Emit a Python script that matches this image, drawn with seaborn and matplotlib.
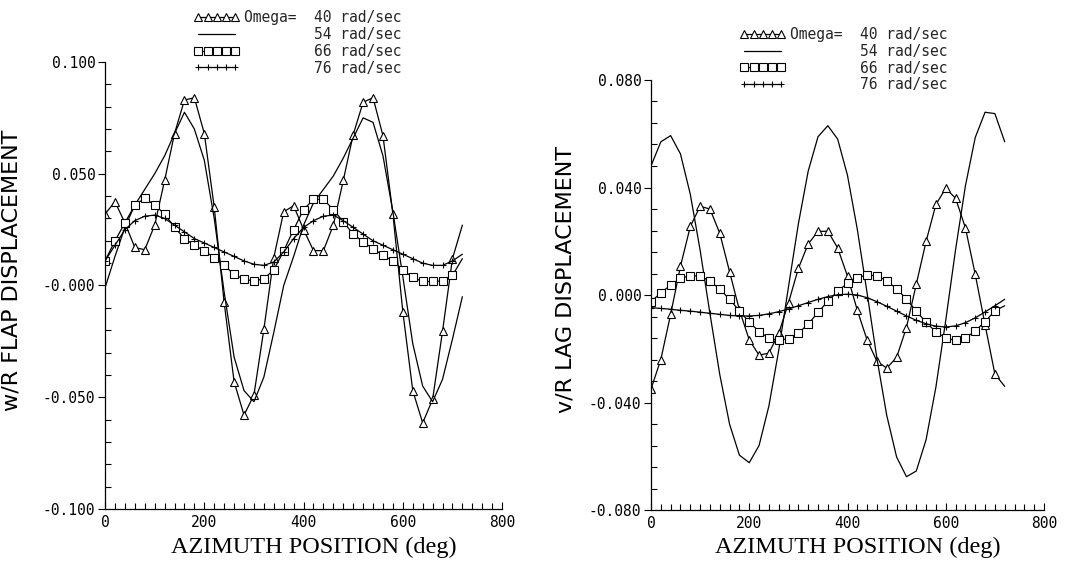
import matplotlib
matplotlib.use("Agg")
import matplotlib.pyplot as plt
from matplotlib.ticker import MultipleLocator
import pandas as pd
import seaborn as sns

# azimuth grid of the curves (deg); markers are drawn on 0..700
AZIMUTH = list(range(0, 721, 20))
SPEEDS = [40, 54, 66, 76]
LEGEND_LABELS = ["Omega=  40 rad/sec", "        54 rad/sec",
                 "        66 rad/sec", "        76 rad/sec"]

# w/R flap displacement
FLAP_40 = [0.032, 0.0375, 0.028, 0.017, 0.016, 0.027, 0.047, 0.068, 0.083, 0.084,
           0.068, 0.035, -0.0076, -0.043, -0.058, -0.049, -0.0196, 0.0125, 0.033,
           0.0357, 0.025, 0.0156, 0.0156, 0.027, 0.047, 0.0675, 0.082, 0.084, 0.067,
           0.032, -0.0117, -0.047, -0.0615, -0.051, -0.0205, 0.012, 0.027]
FLAP_54 = [-0.001, 0.013, 0.026, 0.036, 0.043, 0.050, 0.058, 0.068, 0.0775, 0.070,
           0.056, 0.030, -0.003, -0.032, -0.047, -0.052, -0.041, -0.021, 0.0,
           0.013, 0.027, 0.037, 0.043, 0.049, 0.057, 0.066, 0.075, 0.073, 0.058,
           0.033, 0.004, -0.026, -0.045, -0.052, -0.042, -0.024, -0.005]
FLAP_66 = [0.011, 0.020, 0.028, 0.036, 0.039, 0.036, 0.032, 0.026, 0.021, 0.018,
           0.0155, 0.0125, 0.009, 0.005, 0.0028, 0.002, 0.003, 0.007, 0.0155, 0.025,
           0.034, 0.0385, 0.0385, 0.034, 0.0285, 0.023, 0.0195, 0.0165, 0.0135, 0.011,
           0.007, 0.0036, 0.0018, 0.0018, 0.002, 0.0045, 0.012]
FLAP_76 = [0.011, 0.018, 0.025, 0.029, 0.031, 0.0315, 0.030, 0.027, 0.024, 0.021,
           0.019, 0.017, 0.015, 0.013, 0.011, 0.0095, 0.009, 0.0105, 0.015, 0.021,
           0.026, 0.029, 0.031, 0.0315, 0.029, 0.026, 0.023, 0.020, 0.018, 0.016,
           0.014, 0.012, 0.010, 0.009, 0.009, 0.011, 0.014]

# v/R lag displacement
LAG_40 = [-0.035, -0.024, -0.0072, 0.0107, 0.0255, 0.033, 0.032, 0.023, 0.0086,
          -0.0056, -0.0167, -0.0224, -0.0216, -0.0143, -0.0028, 0.0099, 0.019,
          0.0237, 0.0237, 0.0175, 0.007, -0.0057, -0.0168, -0.0247, -0.0272, -0.0232,
          -0.0121, 0.004, 0.020, 0.0337, 0.0397, 0.036, 0.025, 0.0077, -0.0111,
          -0.0294, -0.034]
LAG_54 = [0.048, 0.057, 0.0593, 0.0525, 0.0375, 0.0167, -0.0069, -0.0296, -0.0481,
          -0.0596, -0.0624, -0.056, -0.0413, -0.0206, 0.0032, 0.0265, 0.0461, 0.0589,
          0.063, 0.058, 0.0445, 0.0244, 0.0006, -0.0237, -0.0449, -0.0603, -0.0676,
          -0.0655, -0.0538, -0.0342, -0.0094, 0.0169, 0.0406, 0.0586, 0.068, 0.0675,
          0.057]
LAG_66 = [-0.0025, 0.0008, 0.0037, 0.0062, 0.0072, 0.0070, 0.0052, 0.0022, -0.0016,
          -0.0059, -0.0101, -0.0136, -0.0161, -0.0168, -0.0162, -0.0142, -0.0108,
          -0.0065, -0.0023, 0.0014, 0.0044, 0.0065, 0.0075, 0.0071, 0.0053, 0.0023,
          -0.0015, -0.0060, -0.0102, -0.0137, -0.0160, -0.0169, -0.0160, -0.0134,
          -0.0099, -0.0059, -0.0040]
LAG_76 = [-0.0047, -0.0050, -0.0053, -0.0057, -0.0060, -0.0064, -0.0068, -0.0072,
          -0.0076, -0.0078, -0.0078, -0.0076, -0.0070, -0.0062, -0.0052, -0.0040,
          -0.0028, -0.0016, -0.0006, 0.0001, 0.0003, 0.0, -0.0010, -0.0025, -0.0042,
          -0.0060, -0.0078, -0.0094, -0.0107, -0.0116, -0.0119, -0.0115, -0.0103,
          -0.0085, -0.0063, -0.0040, -0.0016]

FLAP_TICKS = [-0.1, -0.05, 0.0, 0.05, 0.1]
FLAP_TICK_LABELS = ["-0.100", "-0.050", "-0.000", "0.050", "0.100"]
LAG_TICKS = [-0.08, -0.04, 0.0, 0.04, 0.08]
LAG_TICK_LABELS = ["-0.080", "-0.040", "0.000", "0.040", "0.080"]
X_TICKS = [0, 200, 400, 600, 800]

STYLES = {
    40: dict(marker="^", markersize=6, markerfacecolor="white"),
    54: dict(),
    66: dict(marker="s", markersize=5.5, markerfacecolor="white"),
    76: dict(marker="+", markersize=4.5),
}

sns.set_theme(style="ticks")
plt.rcParams["font.family"] = ["DejaVu Sans"]
MONO = "DejaVu Sans Mono"


def draw_panel(ax, series, ticks, tick_labels, ylim, minor_step, ylabel,
               ylabel_x, legend_anchor):
    for speed, values in zip(SPEEDS, series):
        df = pd.DataFrame({"azimuth": AZIMUTH, "disp": values})
        sns.lineplot(data=df, x="azimuth", y="disp", ax=ax, color="black",
                     linewidth=0.9, markevery=slice(0, 36),
                     markeredgecolor="black", markeredgewidth=0.8,
                     **STYLES[speed])

    ax.set_xlim(0, 800)
    ax.set_ylim(*ylim)
    ax.set_xticks(X_TICKS)
    ax.set_xticklabels([str(t) for t in X_TICKS])
    ax.set_yticks(ticks)
    ax.set_yticklabels(tick_labels)
    ax.xaxis.set_minor_locator(MultipleLocator(20))
    ax.yaxis.set_minor_locator(MultipleLocator(minor_step))
    sns.despine(ax=ax)
    for side in ("left", "bottom"):
        ax.spines[side].set_color("black")
        ax.spines[side].set_linewidth(0.9)

    ax.tick_params(axis="both", which="both", color="black", width=0.8,
                   labelsize=10.5, labelcolor="black", labelfontfamily=MONO)
    ax.tick_params(axis="y", which="major", direction="out", length=5, pad=2)
    ax.tick_params(axis="y", which="minor", direction="in", length=4)
    ax.tick_params(axis="x", which="major", direction="in", length=5, pad=4)
    ax.tick_params(axis="x", which="minor", direction="in", length=4)

    ax.set_xlabel("AZIMUTH POSITION (deg)", fontsize=17.5,
                  family="Liberation Serif", color="black")
    ax.set_ylabel(ylabel, fontsize=16, color="black")
    ax.xaxis.set_label_coords(0.525, -0.062)
    ax.yaxis.set_label_coords(ylabel_x, 0.535)
    ax.grid(False)

    ax.legend(handles=ax.get_lines()[:4], labels=LEGEND_LABELS, loc="upper center",
              bbox_to_anchor=legend_anchor, frameon=False, numpoints=5,
              handlelength=3.1, handletextpad=0.3, labelspacing=0.12,
              borderpad=0, prop={"family": MONO, "size": 10.5})


fig = plt.figure(figsize=(10.83, 5.61), dpi=100)
fig.patch.set_facecolor("white")
ax_flap = fig.add_axes([0.097, 0.0927, 0.3666, 0.7968])
ax_lag = fig.add_axes([0.6011, 0.0909, 0.3629, 0.7665])

draw_panel(ax_flap, [FLAP_40, FLAP_54, FLAP_66, FLAP_76], FLAP_TICKS, FLAP_TICK_LABELS,
           (-0.1, 0.1), 0.01, "w/R FLAP DISPLACEMENT", -0.21, (0.485, 1.132))
draw_panel(ax_lag, [LAG_40, LAG_54, LAG_66, LAG_76], LAG_TICKS, LAG_TICK_LABELS,
           (-0.08, 0.08), 0.008, "v/R LAG DISPLACEMENT", -0.193, (0.49, 1.14))

fig.savefig("out.png", dpi=100, facecolor="white")
plt.close(fig)
